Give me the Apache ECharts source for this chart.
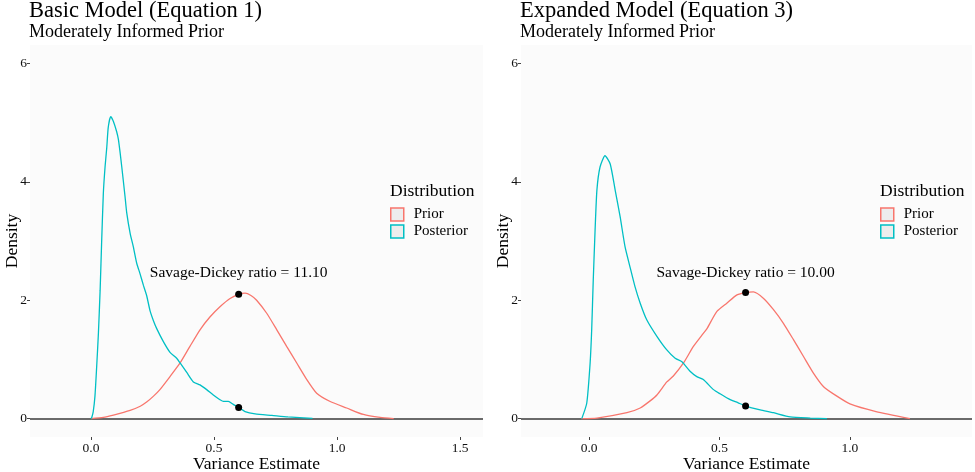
<!DOCTYPE html>
<html>
<head>
<meta charset="utf-8">
<script src="https://cdn.jsdelivr.net/npm/echarts@6/dist/echarts.min.js"></script>
<style>
html,body{margin:0;padding:0;background:#fff;}
#c{width:975px;height:472px;}
</style>
</head>
<body>
<div id="c"></div>
<script>
// ---------- data ----------
const panelTitles = ['Basic Model (Equation 1)', 'Expanded Model (Equation 3)'];
const panelSubtitle = 'Moderately Informed Prior';
const seriesNames = ['Prior', 'Posterior'];
const legendTitle = 'Distribution';
const xTicks = [[0, 0.5, 1.0, 1.5], [0, 0.5, 1.0]];
const yTicks = [0, 2, 4, 6];

const basicPosterior = [[0.0,0.0],[0.003,0.02],[0.009,0.12],[0.016,0.38],[0.023,0.88],[0.030,1.44],[0.037,2.17],[0.043,2.96],[0.050,3.80],[0.057,4.25],[0.064,4.58],[0.070,4.92],[0.080,5.10],[0.091,5.02],[0.104,4.85],[0.111,4.72],[0.118,4.50],[0.125,4.25],[0.138,3.76],[0.145,3.48],[0.159,3.13],[0.172,2.90],[0.186,2.62],[0.199,2.45],[0.213,2.25],[0.226,2.08],[0.240,1.82],[0.254,1.65],[0.267,1.52],[0.294,1.30],[0.321,1.12],[0.348,1.02],[0.362,0.94],[0.389,0.78],[0.416,0.62],[0.443,0.57],[0.470,0.49],[0.497,0.40],[0.524,0.32],[0.538,0.29],[0.558,0.29],[0.578,0.24],[0.600,0.19],[0.626,0.12],[0.667,0.08],[0.735,0.055],[0.80,0.03],[0.90,0.005]];
const basicPrior = [[0.0,0.0],[0.05,0.02],[0.091,0.06],[0.159,0.14],[0.200,0.21],[0.226,0.28],[0.254,0.38],[0.280,0.49],[0.321,0.71],[0.362,0.94],[0.402,1.22],[0.443,1.50],[0.484,1.72],[0.524,1.89],[0.565,2.03],[0.600,2.10],[0.626,2.12],[0.650,2.08],[0.673,2.00],[0.714,1.78],[0.755,1.50],[0.795,1.22],[0.836,0.94],[0.877,0.66],[0.917,0.43],[0.972,0.29],[1.039,0.18],[1.107,0.07],[1.175,0.02],[1.23,0.0]];
const expandedPosterior = [[-0.028,0.0],[-0.009,0.26],[0.004,0.94],[0.010,1.50],[0.016,2.34],[0.023,3.18],[0.030,3.86],[0.042,4.25],[0.061,4.44],[0.081,4.30],[0.100,3.86],[0.119,3.41],[0.138,2.90],[0.157,2.56],[0.176,2.23],[0.196,1.95],[0.221,1.67],[0.260,1.39],[0.298,1.16],[0.330,1.02],[0.356,0.96],[0.387,0.80],[0.413,0.71],[0.438,0.66],[0.477,0.49],[0.502,0.42],[0.541,0.32],[0.570,0.27],[0.600,0.213],[0.656,0.15],[0.707,0.10],[0.771,0.03],[0.848,0.01],[0.912,0.0]];
const expandedPrior = [[-0.03,0.0],[0.03,0.01],[0.145,0.10],[0.196,0.18],[0.234,0.30],[0.260,0.40],[0.298,0.62],[0.323,0.72],[0.362,0.94],[0.400,1.22],[0.438,1.44],[0.452,1.52],[0.490,1.81],[0.528,1.95],[0.567,2.09],[0.600,2.13],[0.630,2.14],[0.669,2.03],[0.707,1.84],[0.745,1.61],[0.784,1.33],[0.822,1.05],[0.860,0.77],[0.899,0.54],[0.950,0.38],[1.0,0.25],[1.10,0.12],[1.23,0.0]];

const ratioPoints = [[[0.6,2.10],[0.6,0.19]], [[0.6,2.13],[0.6,0.213]]];
const ratioLabels = ['Savage-Dickey ratio = 11.10', 'Savage-Dickey ratio = 10.00'];
const ratioLabelPos = [[0.6,2.46], [0.6,2.46]];

const xRanges = [[-0.248, 1.593], [-0.261, 1.468]];
const yRange = [-0.31, 6.31];

// ---------- styles ----------
const FONT = '"Liberation Serif", "DejaVu Serif", serif';
const COLORS = {Prior: '#F8766D', Posterior: '#00BFC4'};
const grids = [
  {left: 30, top: 45, width: 453, height: 392},
  {left: 521, top: 45, width: 451, height: 392}
];
const legendLeft = [390, 880];

const chart = echarts.init(document.getElementById('c'), null, {renderer: 'canvas'});

const option = {
  backgroundColor: '#ffffff',
  animation: false,
  textStyle: {fontFamily: FONT},
  title: [],
  legend: [],
  grid: grids.map(g => Object.assign({show: true, backgroundColor: '#fbfbfb', borderWidth: 0,
    containLabel: false, outerBoundsMode: 'none'}, g)),
  xAxis: [],
  yAxis: [],
  series: []
};

const panelData = [[basicPrior, basicPosterior], [expandedPrior, expandedPosterior]];

for (let p = 0; p < 2; p++) {
  option.title.push({
    text: panelTitles[p], subtext: panelSubtitle,
    left: grids[p].left - 1, top: 0, padding: 0, itemGap: 0,
    textStyle: {fontFamily: FONT, fontSize: 22.5, fontWeight: 'normal', color: '#000', lineHeight: 22},
    subtextStyle: {fontFamily: FONT, fontSize: 18, color: '#000', lineHeight: 18}
  });
  option.title.push({
    text: legendTitle, left: legendLeft[p], top: 183, padding: 0,
    textStyle: {fontFamily: FONT, fontSize: 17.5, fontWeight: 'normal', color: '#000', lineHeight: 17}
  });
  option.legend.push({
    left: legendLeft[p], top: 207, orient: 'vertical', padding: 0,
    itemWidth: 13, itemHeight: 13, itemGap: 2, icon: 'rect',
    selectedMode: false,
    textStyle: {fontFamily: FONT, fontSize: 15, color: '#000', padding: [0, 0, 0, 5]},
    data: seriesNames.map(n => ({name: n, icon: 'rect',
      itemStyle: {color: '#ededed', borderColor: COLORS[n], borderWidth: 1.5}}))
  });
  option.xAxis.push({
    type: 'value', gridIndex: p, min: xRanges[p][0], max: xRanges[p][1],
    name: 'Variance Estimate', nameLocation: 'middle', nameGap: 18, nameMoveOverlap: false,
    nameTextStyle: {fontFamily: FONT, fontSize: 17.5, color: '#000'},
    axisLine: {show: false, onZero: false},
    axisTick: {show: true, length: 3, lineStyle: {color: '#444'}, customValues: xTicks[p]},
    axisLabel: {fontFamily: FONT, fontSize: 13.5, color: '#111', margin: 4,
      customValues: xTicks[p], formatter: v => v.toFixed(1)},
    splitLine: {show: false}
  });
  option.yAxis.push({
    type: 'value', gridIndex: p, min: yRange[0], max: yRange[1],
    name: 'Density', nameLocation: 'middle', nameGap: 9, nameRotate: 90, nameMoveOverlap: false,
    nameTextStyle: {fontFamily: FONT, fontSize: 17.5, color: '#000'},
    axisLine: {show: false, onZero: false},
    axisTick: {show: true, length: 3, lineStyle: {color: '#444'}, customValues: yTicks},
    axisLabel: {fontFamily: FONT, fontSize: 13.5, color: '#111', margin: 3,
      customValues: yTicks, formatter: v => String(v)},
    splitLine: {show: false}
  });
  seriesNames.forEach((n, k) => {
    const s = {
      name: n, type: 'line', xAxisIndex: p, yAxisIndex: p,
      data: panelData[p][k], showSymbol: false, symbol: 'none', smooth: 0.2,
      lineStyle: {color: COLORS[n], width: 1.3}, itemStyle: {color: COLORS[n]},
      z: 3
    };
    if (k === 0) {
      s.markLine = {
        silent: true, symbol: ['none', 'none'], label: {show: false},
        lineStyle: {color: '#3a3a3a', width: 1.5, type: 'solid'},
        data: [{yAxis: 0}], z: 2
      };
    }
    option.series.push(s);
  });
  option.series.push({
    type: 'scatter', xAxisIndex: p, yAxisIndex: p,
    data: ratioPoints[p], symbolSize: 7, itemStyle: {color: '#000', opacity: 1}, z: 5
  });
  option.series.push({
    type: 'scatter', xAxisIndex: p, yAxisIndex: p,
    data: [ratioLabelPos[p]], symbolSize: 0, itemStyle: {color: '#000'},
    label: {show: true, position: 'inside', formatter: ratioLabels[p],
      fontFamily: FONT, fontSize: 15.5, color: '#000', textBorderWidth: 0, opacity: 1}, z: 6
  });
}

chart.setOption(option);
</script>
</body>
</html>
